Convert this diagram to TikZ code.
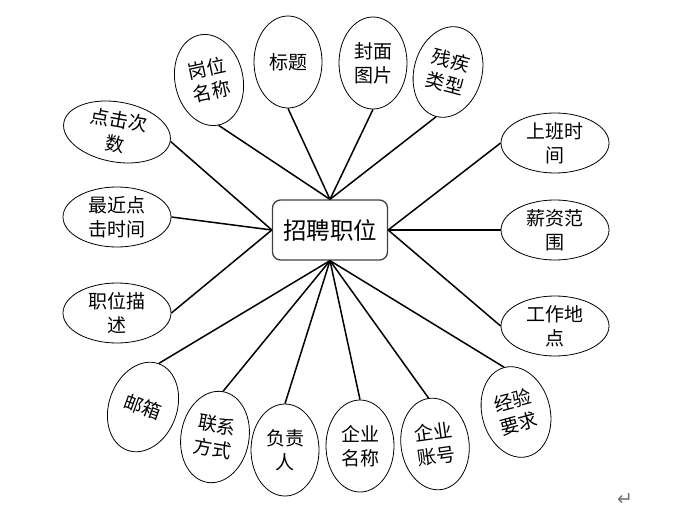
\documentclass[tikz,border=0pt]{standalone}
\usepackage{fontspec}
\setmainfont{Noto Sans CJK SC}
\newfontfamily\retfont{DejaVu Sans}
\usetikzlibrary{shapes.geometric}

\begin{document}
\begin{tikzpicture}[x=1pt, y=-1pt,
        entity/.style={
            rectangle, draw=black!75, line width=1.3pt,
            rounded corners=8pt, minimum width=115pt, minimum height=60pt,
            font=\fontsize{23.5}{26}\selectfont
        },
        attr/.style={
            ellipse, draw, line width=0.8pt, inner sep=0pt,
            align=center, font=\fontsize{19}{24}\selectfont
        },
        wideattr/.style={attr, minimum width=108pt, minimum height=60pt},
        tallattr/.style={attr, minimum width=68pt, minimum height=92pt},
        link/.style={line width=1.5pt}
    ]
        \useasboundingbox (0,0) rectangle (698,524);

        \node[entity] (job) at (330,230) {招聘职位};

        % top
        \node[tallattr, rotate=12]  (gwmc) at (209,80)  {岗位\\名称};
        \node[tallattr]             (bt)   at (288,62)  {标题};
        \node[tallattr]             (fmtp) at (373,63)  {封面\\图片};
        \node[tallattr, rotate=-15] (cjlx) at (448,72)  {残疾\\类型};

        % left
        \node[wideattr, rotate=-10] (djcs) at (117,132) {点击次\\数};
        \node[wideattr]             (zjsj) at (117,217) {最近点\\击时间};
        \node[wideattr]             (zwms) at (117,313) {职位描\\述};

        % right
        \node[wideattr] (sbsj) at (555,143) {上班时\\间};
        \node[wideattr] (xzfw) at (555,230) {薪资范\\围};
        \node[wideattr] (gzdd) at (555,326) {工作地\\点};

        % bottom
        \node[tallattr, rotate=-20] (yx)   at (143,407) {邮箱};
        \node[tallattr, rotate=-10] (lxfs) at (215,437) {联系\\方式};
        \node[tallattr]             (fzr)  at (285,450) {负责\\人};
        \node[tallattr]             (qymc) at (360,446) {企业\\名称};
        \node[tallattr, rotate=8]   (qyzh) at (435,444) {企业\\账号};
        \node[tallattr, rotate=15]  (jyyq) at (516,412) {经验\\要求};

        \node[text=black!55, font=\retfont\fontsize{19}{19}\selectfont] (ret) at (625,500) {↵};

        \draw[link] (job.north) -- (gwmc.south);
        \draw[link] (job.north) -- (bt.south);
        \draw[link] (job.north) -- (fmtp.south);
        \draw[link] (job.north) -- (cjlx.south);

        \draw[link] (job.west) -- (djcs.east);
        \draw[link] (job.west) -- (zjsj.east);
        \draw[link] (job.west) -- (zwms.east);

        \draw[link] (job.east) -- (sbsj.west);
        \draw[link] (job.east) -- (xzfw.west);
        \draw[link] (job.east) -- (gzdd.west);

        \draw[link] (job.south) -- (yx.north);
        \draw[link] (job.south) -- (lxfs.north);
        \draw[link] (job.south) -- (fzr.north);
        \draw[link] (job.south) -- (qymc.north);
        \draw[link] (job.south) -- (qyzh.north);
        \draw[link] (job.south) -- (jyyq.north);
    \end{tikzpicture}
\end{document}
